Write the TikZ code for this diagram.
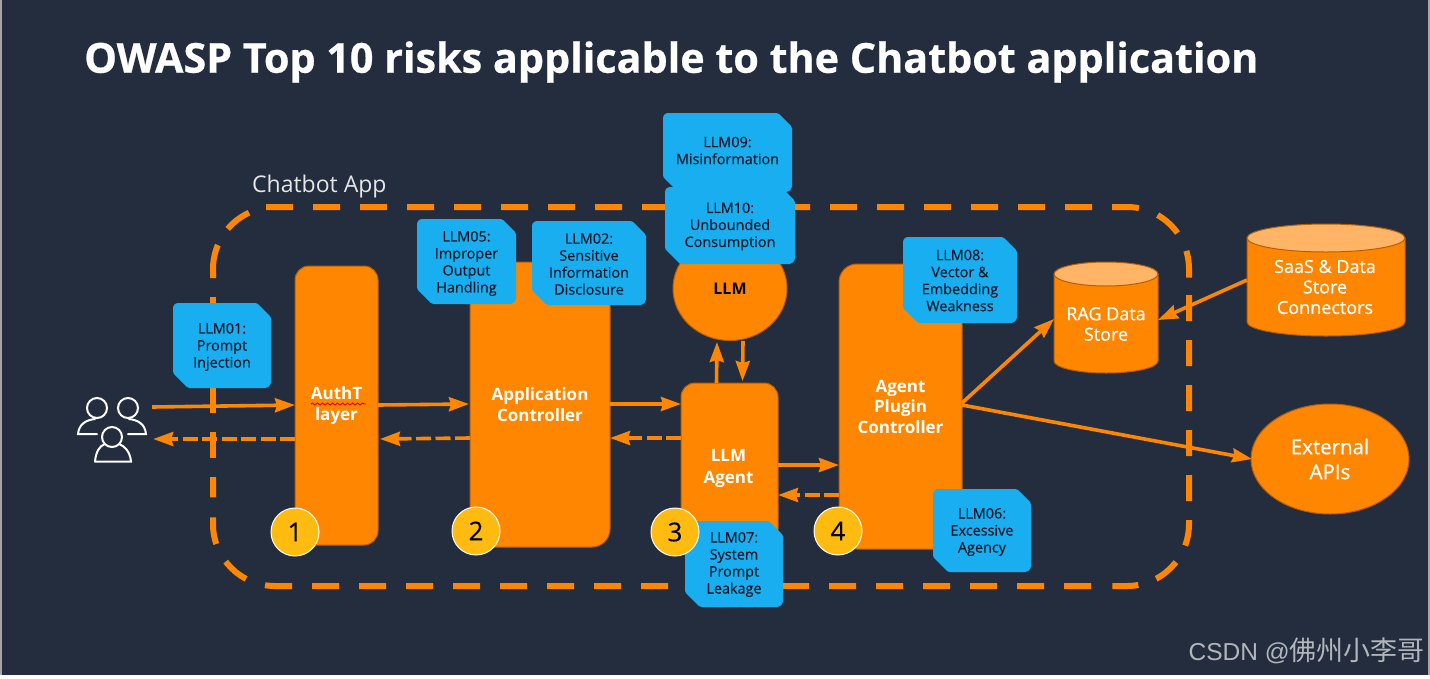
\documentclass[tikz,border=0pt]{standalone}
\usepackage{fontspec}
\setmainfont{Open Sans}
\newfontfamily\cjkfont{Noto Sans CJK SC}
\newfontfamily\wmfont{Liberation Sans}
\newfontfamily\titlefont[FakeBold=0.6]{Open Sans Bold}
\newfontfamily\midfont[FakeBold=0.6]{Open Sans}
\newfontfamily\riskfont[FakeBold=0.3]{Open Sans}
\newfontfamily\digitfont[FakeBold=0.3]{Open Sans}
\usetikzlibrary{arrows.meta,shapes.geometric,decorations.pathmorphing}
\definecolor{bg}{HTML}{232D3E}
\definecolor{org}{HTML}{FF8600}
\definecolor{orgdark}{HTML}{B85F06}
\definecolor{orgtop}{HTML}{FFB466}
\definecolor{skyb}{HTML}{18AEF0}
\definecolor{inkb}{HTML}{0A1A2A}
\definecolor{goldc}{HTML}{FFBB10}
\definecolor{wmark}{HTML}{B2B6BC}
\tikzset{
  x=1pt,y=-1pt,
  flow/.style={draw=org,line width=3.6pt,-{Stealth[length=20pt,width=14pt,inset=2pt]}},
  back/.style={flow,dash pattern=on 15pt off 4.5pt},
  ringa/.style={draw=org,line width=6pt,dash pattern=on 27pt off 20pt},
  ringb/.style={draw=org,line width=6pt,dash pattern=on 26pt off 19pt},
  ringc/.style={draw=org,line width=6pt,dash pattern=on 33.6pt off 19pt on 27pt off 100pt},
  orgbox/.style={draw=orgdark,line width=1pt,fill=org,rounded corners=#1,inner sep=0pt,outer sep=0pt,text=white,font=\fontsize{17}{20.5}\selectfont\bfseries,align=center},
  risk/.style={inner sep=0pt,text=inkb,font=\riskfont\fontsize{14.4}{17}\selectfont,align=center},
  badge/.style={circle,draw=white,line width=1pt,fill=goldc,minimum size=48pt,inner sep=0pt,text=black,font=\digitfont\fontsize{26}{26}\selectfont},
  cyl/.style={inner sep=0pt,outer sep=0pt,text=white,font=\midfont\fontsize{18}{20.5}\selectfont,align=center},
  person/.style={draw=white,line width=2pt,line cap=round}
}
% [text shift], name, x1, y1, x2, y2, text
\newcommand\riskbody{}
\newcommand\rbox[7][1.5]{%
  \fill[skyb,rounded corners=1.5pt] (#3,#4+3) -- (#3+3,#4) -- (#5-14,#4) -- (#5,#4+14) -- (#5,#6-4) -- (#5-4,#6) -- (#3+15,#6) -- (#3,#6-15) -- cycle;
  \node[risk] (#2) at ({(#3+#5)/2},{(#4+#6)/2+#1}) {#7};
}
% name, x1, top, x2, bottom, ry
\newcommand\drum[6]{%
  \draw[draw=orgdark,line width=1pt,fill=org] (#2,#3+#6) -- (#2,#5-#6) arc[start angle=180,end angle=0,x radius={(#4-#2)/2},y radius=#6] -- (#4,#3+#6) -- cycle;
  \draw[draw=orgdark,line width=1pt,fill=orgtop] ({(#2+#4)/2},#3+#6) ellipse[x radius={(#4-#2)/2},y radius=#6];
  \node[cyl,minimum width={#4-#2},minimum height={#5-#3}] (#1) at ({(#2+#4)/2},{(#3+#5)/2}) {};
}
\begin{document}
\begin{tikzpicture}
\fill[white] (0,0) rectangle (1430,678);
\useasboundingbox (0,0) rectangle (1430,678);
\fill[bg] (1.5,0) rectangle (1428,675);
\fill[gray!70] (0,0) rectangle (1.5,675);
\fill[gray!70] (1428,0) rectangle (1430,675);
\node[anchor=west,inner sep=0pt,text=white,font=\titlefont\fontsize{41.3}{41.3}\selectfont] (title) at (84,62) {OWASP Top 10 risks applicable to the Chatbot application};
\node[anchor=west,inner sep=0pt,text=white!88!bg,font=\fontsize{23}{27}\selectfont] (applabel) at (252,187) {Chatbot App};

% dashed application boundary
\draw[ringa] (266,207) -- (1127,207) arc[start angle=270,end angle=360,radius=62] -- (1189,278);
\draw[ringb] (1189,295) -- (1189,524) arc[start angle=0,end angle=90,radius=62] -- (1112,586);
\draw[ringa] (1091,586) -- (275,586) arc[start angle=90,end angle=180,radius=62] -- (213,477);
\draw[ringb] (213,458) -- (213,297);
\draw[ringc] (213,278) -- (213,269) arc[start angle=180,end angle=250,radius=62];

% users icon
\node[minimum width=70pt,minimum height=66pt,inner sep=0pt] (users) at (113,430) {};
\draw[person] (97,408) circle[radius=10];
\draw[person] (128,408) circle[radius=10];
\draw[person] (112,437) circle[radius=10];
\draw[person] (97,434) -- (78,434) .. controls (79,424) and (86,420) .. (95,419);
\draw[person] (128,434) -- (146,434) .. controls (145,424) and (138,420) .. (129,419);
\draw[person] (95,461.5) -- (131,461.5) .. controls (130,451) and (124,446) .. (120,444.5);
\draw[person] (95,461.5) .. controls (96,451) and (100,446) .. (104,444.5);

% boxes
\node[orgbox=14pt,minimum width=83pt,minimum height=279pt] (auth) at (336.5,405.5) {AuthT\\layer};
\node[orgbox=18pt,minimum width=140pt,minimum height=285pt] (ctrl) at (540,404.5) {Application\\Controller};
\node[orgbox=14pt,minimum width=97pt,minimum height=160pt] (agent) at (729.5,463) {};
\node[inner sep=0pt,text=white,font=\fontsize{17}{22}\selectfont\bfseries,align=center] (agentt) at (728.5,468) {LLM\\Agent};
\node[orgbox=18pt,minimum width=123pt,minimum height=285pt] (plugin) at (900.5,406.5) {Agent\\Plugin\\Controller};
\node[ellipse,draw=orgdark,line width=1pt,fill=org,minimum width=114pt,minimum height=104pt,inner sep=0pt,outer sep=0pt,text=black,font=\fontsize{16}{20}\selectfont\bfseries] (llm) at (730,288.5) {LLM};
\drum{rag}{1054}{262}{1158}{373}{12}
\node[cyl] (ragt) at (1106,324) {RAG Data\\Store};
\drum{saas}{1247}{224}{1405}{336}{14}
\node[cyl] (saast) at (1325,287) {SaaS \& Data\\Store\\Connectors};
\node[ellipse,draw=orgdark,line width=1pt,fill=org,minimum width=158pt,minimum height=110pt,inner sep=0pt,outer sep=0pt,text=white,font=\midfont\fontsize{20.5}{25}\selectfont,align=center] (ext) at (1330,459) {External\\APIs};

% squiggle under AuthT
\draw[red!85!black,line width=.9pt,decorate,decoration={snake,amplitude=1pt,segment length=5pt}] (311,404) -- (366,404);

% connectors
\draw[flow] ([yshift=23pt,xshift=4pt]users.east) -- ([yshift=.5pt]auth.west);
\draw[back] ([yshift=-33.5pt]auth.west) -- ([yshift=-9pt,xshift=5pt]users.east);
\draw[flow] ([yshift=.5pt]auth.east) -- ([yshift=.5pt,xshift=-1pt]ctrl.west);
\draw[back] ([yshift=-33.5pt]ctrl.west) -- ([yshift=-33.5pt,xshift=2pt]auth.east);
\draw[flow] ([yshift=.5pt]ctrl.east) -- (agent.west |- 0,404);
\draw[back] (agent.west |- 0,438) -- (ctrl.east |- 0,438);
\draw[flow] ([xshift=-13pt]agent.north) -- ([xshift=-13pt,yshift=-1.5pt]llm.south);
\draw[flow] ([xshift=13pt,yshift=-.5pt]llm.south) -- ([xshift=13pt,yshift=2pt]agent.north);
\draw[flow] (agent.east |- 0,465) -- (plugin.west |- 0,465);
\draw[back] (plugin.west |- 0,495) -- (agent.east |- 0,495);
\draw[flow] ([yshift=3.5pt]plugin.east) -- ([yshift=-1.5pt]rag.west);
\draw[flow] (saas.west |- 0,280) -- ([yshift=-2.5pt]rag.east);
\draw[flow] ([yshift=1.5pt]plugin.east) -- ([xshift=1pt]ext.west);

% risks
\rbox{r01}{173}{303}{271}{388}{LLM01:\\Prompt\\Injection}
\rbox[2]{r05}{417}{219}{516}{304}{LLM05:\\Improper\\Output\\Handling}
\rbox[1]{r02}{532}{221}{646}{305}{LLM02:\\Sensitive\\Information\\Disclosure}
\rbox[-2]{r09}{663}{113}{792}{192}{LLM09:\\Misinformation}
\rbox[1]{r10}{665}{187}{795}{264}{LLM10:\\Unbounded\\Consumption}
\rbox[.5]{r08}{903}{237}{1017}{323}{LLM08:\\Vector \&\\Embedding\\Weakness}
\rbox{r06}{933}{489}{1031}{572}{LLM06:\\Excessive\\Agency}
\rbox[.5]{r07}{685}{521}{783}{607}{LLM07:\\System\\Prompt\\Leakage}

% badges
\node[badge] (b1) at (295,532) {1};
\node[badge] (b2) at (476,531) {2};
\node[badge] (b3) at (675,532) {3};
\node[badge] (b4) at (838,531) {4};

\node[anchor=east,inner sep=0pt,text=wmark] (mark) at (1425,651) {{\wmfont\fontsize{24.5}{27}\selectfont CSDN @}{\cjkfont\fontsize{27}{27}\selectfont 佛州小李哥}};
\end{tikzpicture}
\end{document}
